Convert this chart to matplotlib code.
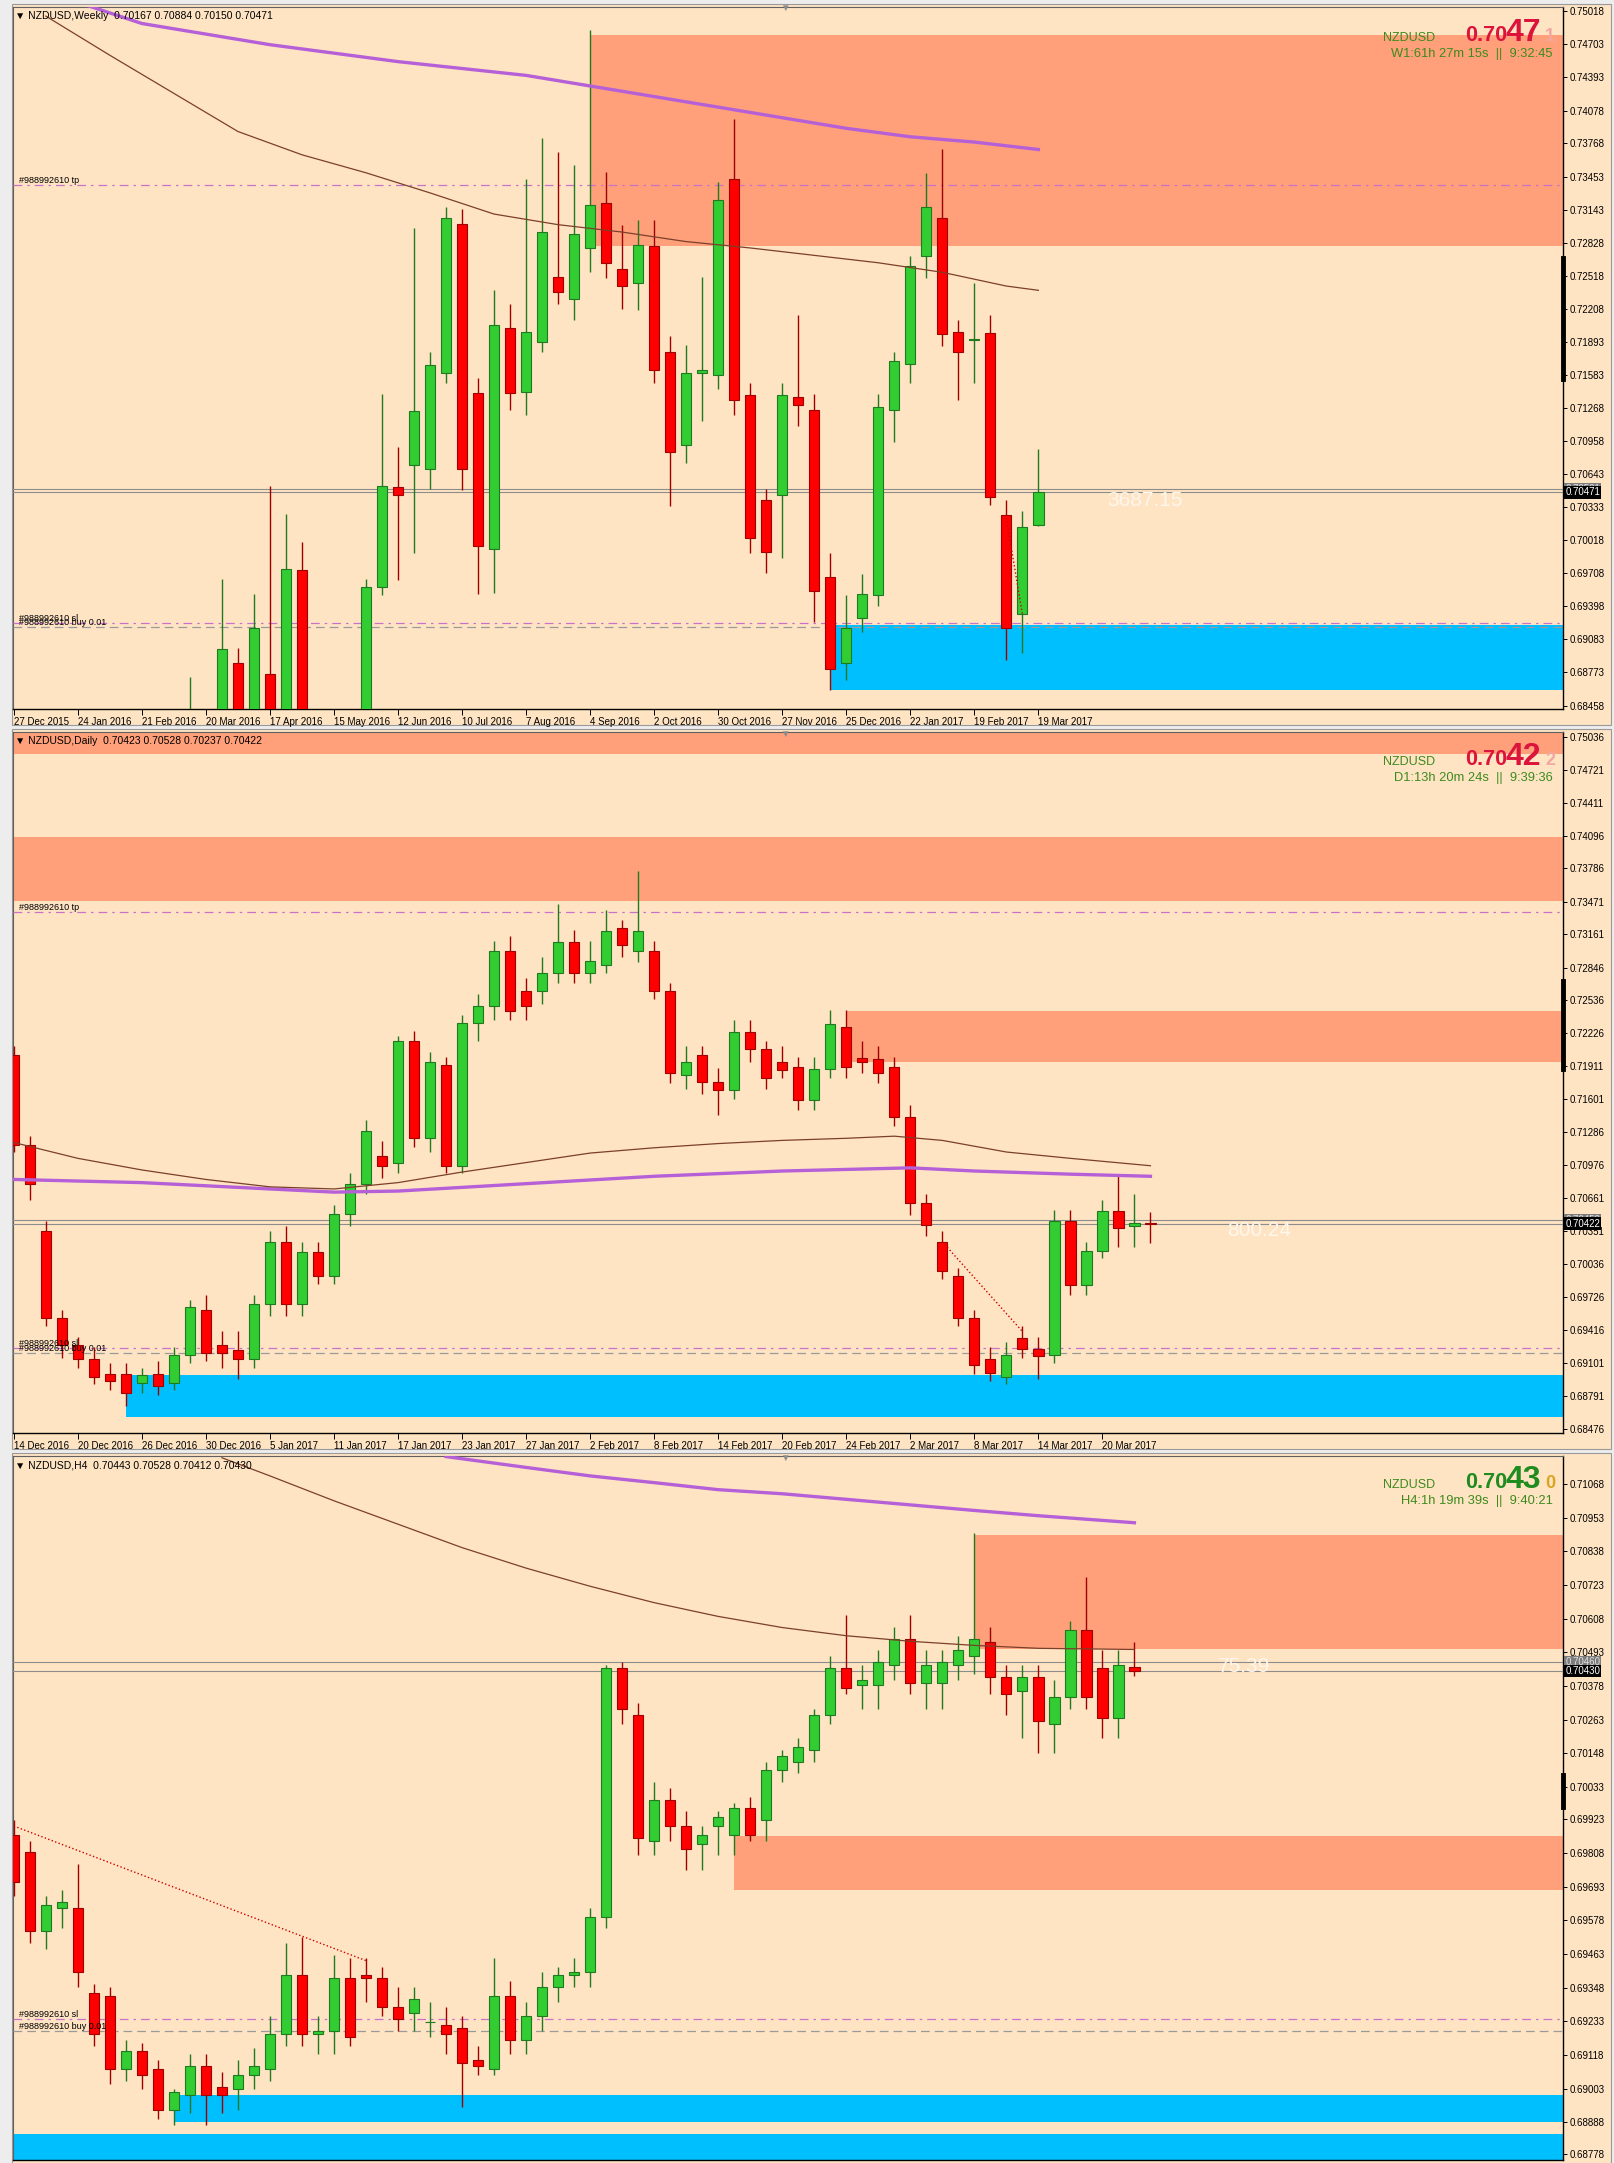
import matplotlib
matplotlib.use("Agg")
import matplotlib.pyplot as plt
import matplotlib.transforms as mtransforms
from matplotlib.lines import Line2D
from matplotlib.patches import Rectangle
import numpy as np

plt.rcParams['font.family'] = ['Liberation Sans', 'DejaVu Sans']

# ---------------- weekly (W1) ----------------
w_open = [.6835, .6790, .6570, .6470, .6500, .6480, .6620, .6680, .6620, .6640, .6740, .6700, .6820,
          .6790, .6886, .6810, .6876, .6810, .6974, .6810, .6760, .6780, .6810, .6958, .7052, .7073,
          .7069, .7160, .7301, .7141, .6994, .7202, .7142, .7189, .7251, .7230, .7278, .7320, .7258,
          .7245, .7280, .7180, .7092, .7160, .7158, .7343, .7139, .7040, .7045, .7137, .7125, .6967,
          .6886, .6928, .6950, .7125, .7168, .7270, .7306, .7199, .7191, .7198, .7026, .6932, .70167]
w_high = [.6840, .6800, .6600, .6560, .6560, .6650, .6720, .6700, .6680, .6760, .6790, .6873, .6840,
          .6965, .6900, .6951, .7053, .7027, .7000, .6840, .6830, .6840, .6965, .7140, .7090, .7297,
          .7180, .7317, .7315, .7155, .7238, .7225, .7343, .7382, .7369, .7356, .7484, .7350, .7300,
          .7304, .7304, .7195, .7186, .7251, .7340, .7400, .7150, .7050, .7150, .7215, .7140, .6990,
          .6950, .6970, .7140, .7180, .7270, .7349, .7371, .7210, .7245, .7215, .7040, .7030, .70884]
w_low = [.6770, .6560, .6400, .6440, .6450, .6470, .6600, .6580, .6560, .6620, .6640, .6690, .6760,
         .6770, .6790, .6790, .6780, .6800, .6800, .6720, .6700, .6750, .6800, .6950, .6964, .6990,
         .7050, .7150, .7049, .6951, .6952, .7125, .7120, .7180, .7225, .7210, .7255, .7250, .7220,
         .7219, .7150, .7034, .7075, .7115, .7145, .7120, .6990, .6971, .6985, .7110, .6925, .6860,
         .6870, .6915, .6940, .7095, .7150, .7250, .7185, .7134, .7150, .7035, .6889, .6895, .70150]
w_close = [.6790, .6570, .6470, .6500, .6480, .6620, .6680, .6620, .6640, .6740, .6700, .6820, .6790,
           .6899, .6810, .6919, .6810, .6975, .6810, .6760, .6780, .6810, .6958, .7053, .7045, .7124,
           .7167, .7306, .7069, .6996, .7205, .7141, .7199, .7293, .7236, .7291, .7319, .7264, .7242,
           .7281, .7163, .7085, .7160, .7163, .7323, .7134, .7004, .6991, .7139, .7130, .6954, .6880,
           .6919, .6951, .7128, .7171, .7261, .7317, .7197, .7180, .7192, .7043, .6919, .7014, .70471]
w_dates = ["27 Dec 2015", "24 Jan 2016", "21 Feb 2016", "20 Mar 2016", "17 Apr 2016", "15 May 2016",
           "12 Jun 2016", "10 Jul 2016", "7 Aug 2016", "4 Sep 2016", "2 Oct 2016", "30 Oct 2016",
           "27 Nov 2016", "25 Dec 2016", "22 Jan 2017", "19 Feb 2017", "19 Mar 2017"]
w_ticks = [0.75018, 0.74703, 0.74393, 0.74078, 0.73768, 0.73453, 0.73143, 0.72828, 0.72518, 0.72208,
           0.71893, 0.71583, 0.71268, 0.70958, 0.70643, 0.70333, 0.70018, 0.69708, 0.69398, 0.69083,
           0.68773, 0.68458]
w_ma_slow_bar = [4, 8, 16, 24, 32, 40, 48, 52, 56, 60, 64]
w_ma_slow = [.7510, .7490, .7470, .7454, .7441, .7421, .7401, .7391, .7383, .7378, .7371]
w_ma_fast_bar = [2, 6, 10, 14, 18, 22, 26, 30, 34, 38, 42, 46, 50, 54, 58, 62, 64]
w_ma_fast = [.7497, .7460, .7424, .7388, .7366, .7349, .7330, .7310, .7300, .7293, .7284, .7278,
             .7271, .7264, .7255, .7242, .7238]

# ---------------- daily (D1) ----------------
d_open = [.7202, .7117, .7035, .6953, .6927, .6914, .6900, .6900, .6891, .6900, .6891, .6918, .6960,
          .6927, .6922, .6914, .6966, .7025, .6966, .7015, .6993, .7051, .7080, .7106, .7100, .7215,
          .7123, .7192, .7097, .7232, .7248, .7300, .7263, .7263, .7280, .7309, .7280, .7287, .7322,
          .7300, .7300, .7263, .7183, .7202, .7176, .7169, .7224, .7208, .7195, .7191, .7159, .7189,
          .7228, .7199, .7198, .7191, .7143, .7062, .7025, .6993, .6953, .6914, .6897, .6934, .6923,
          .6918, .7045, .6984, .7016, .7054, .7040, .70423]
d_high = [.7210, .7125, .7045, .6960, .6935, .6925, .6910, .6910, .6905, .6912, .6925, .6970, .6975,
          .6940, .6940, .6975, .7035, .7040, .7025, .7025, .7060, .7090, .7140, .7120, .7220, .7225,
          .7205, .7200, .7240, .7260, .7310, .7315, .7275, .7295, .7345, .7320, .7310, .7339, .7330,
          .7376, .7310, .7270, .7210, .7210, .7190, .7235, .7235, .7215, .7210, .7200, .7200, .7245,
          .7245, .7215, .7210, .7200, .7155, .7070, .7035, .7000, .6960, .6925, .6930, .6945, .6935,
          .7055, .7055, .7025, .7065, .7088, .7070, .70528]
d_low = [.7110, .7065, .6945, .6915, .6905, .6890, .6885, .6869, .6882, .6880, .6885, .6910, .6912,
         .6905, .6895, .6905, .6955, .6955, .6955, .6985, .6985, .7040, .7070, .7085, .7090, .7115,
         .7110, .7090, .7090, .7215, .7235, .7235, .7235, .7250, .7270, .7270, .7270, .7280, .7295,
         .7290, .7255, .7175, .7170, .7165, .7145, .7160, .7195, .7170, .7180, .7150, .7150, .7180,
         .7180, .7185, .7175, .7135, .7050, .7030, .6990, .6945, .6900, .6893, .6890, .6915, .6895,
         .6910, .6975, .6975, .7010, .7020, .7020, .70237]
d_close = [.7117, .7080, .6953, .6927, .6914, .6897, .6893, .6882, .6899, .6888, .6918, .6963, .6920,
           .6920, .6914, .6966, .7025, .6966, .7015, .6993, .7051, .7080, .7130, .7097, .7215, .7123,
           .7195, .7097, .7232, .7248, .7300, .7244, .7248, .7280, .7309, .7280, .7291, .7319, .7306,
           .7319, .7263, .7185, .7195, .7176, .7169, .7224, .7208, .7180, .7188, .7159, .7189, .7231,
           .7191, .7195, .7185, .7143, .7062, .7041, .6997, .6953, .6908, .6901, .6918, .6923, .6917,
           .7045, .6984, .7016, .7054, .7038, .7043, .70422]
d_dates = ["14 Dec 2016", "20 Dec 2016", "26 Dec 2016", "30 Dec 2016", "5 Jan 2017", "11 Jan 2017",
           "17 Jan 2017", "23 Jan 2017", "27 Jan 2017", "2 Feb 2017", "8 Feb 2017", "14 Feb 2017",
           "20 Feb 2017", "24 Feb 2017", "2 Mar 2017", "8 Mar 2017", "14 Mar 2017", "20 Mar 2017"]
d_ticks = [0.75036, 0.74721, 0.74411, 0.74096, 0.73786, 0.73471, 0.73161, 0.72846, 0.72536, 0.72226,
           0.71911, 0.71601, 0.71286, 0.70976, 0.70661, 0.70351, 0.70036, 0.69726, 0.69416, 0.69101,
           0.68791, 0.68476]
d_ma_slow_bar = [0, 8, 16, 20, 24, 32, 40, 48, 56, 60, 66, 71]
d_ma_slow = [.7084, .7081, .7075, .7072, .7073, .7080, .7087, .7092, .7095, .7092, .7089, .7087]
d_ma_fast_bar = [0, 4, 8, 12, 16, 20, 24, 28, 32, 36, 40, 44, 48, 52, 55, 58, 62, 66, 71]
d_ma_fast = [.7119, .7104, .7093, .7084, .7077, .7075, .7081, .7091, .7100, .7109, .7114, .7118,
             .7121, .7123, .7125, .7121, .7110, .7104, .7097]

# ---------------- H4 ----------------
h_open = [.6987, .6981, .6954, .6962, .6962, .6933, .6932, .6907, .6913, .6907, .6893, .6898, .6908,
          .6901, .6900, .6905, .6907, .6919, .6939, .6919, .6920, .6938, .6939, .6938, .6928, .6926,
          .6923, .6922, .6921, .6910, .6907, .6932, .6917, .6925, .6935, .6939, .6940, .6959, .7044,
          .7028, .6985, .6999, .6990, .6984, .6990, .6987, .6996, .6992, .7009, .7012, .7016, .7028,
          .7044, .7038, .7038, .7045, .7054, .7039, .7039, .7045, .7048, .7053, .7041, .7036, .7041,
          .7025, .7034, .7057, .7044, .7027, .70443]
h_high = [.6992, .6985, .6966, .6968, .6977, .6936, .6935, .6917, .6916, .6910, .6900, .6912, .6912,
          .6906, .6910, .6914, .6925, .6950, .6952, .6925, .6946, .6945, .6945, .6942, .6935, .6935,
          .6930, .6928, .6925, .6915, .6945, .6937, .6930, .6940, .6942, .6945, .6962, .7045, .7046,
          .7032, .7005, .7003, .6995, .6990, .6995, .6998, .7000, .7012, .7016, .7020, .7030, .7048,
          .7062, .7045, .7050, .7058, .7062, .7050, .7050, .7055, .7090, .7058, .7045, .7045, .7045,
          .7040, .7060, .7075, .7050, .7050, .70528]
h_low = [.6966, .6950, .6948, .6955, .6935, .6915, .6902, .6903, .6900, .6890, .6888, .6892, .6888,
         .6892, .6893, .6900, .6903, .6915, .6915, .6912, .6912, .6915, .6930, .6925, .6920, .6920,
         .6918, .6912, .6894, .6905, .6905, .6912, .6912, .6920, .6930, .6935, .6935, .6955, .7025,
         .6980, .6980, .6985, .6975, .6975, .6980, .6980, .6985, .6985, .7005, .7008, .7012, .7025,
         .7035, .7030, .7030, .7040, .7035, .7030, .7030, .7040, .7042, .7035, .7028, .7020, .7015,
         .7015, .7030, .7030, .7020, .7020, .70412]
h_close = [.6971, .6954, .6963, .6964, .6940, .6919, .6907, .6913, .6905, .6893, .6899, .6908, .6898,
           .6898, .6905, .6908, .6919, .6939, .6919, .6920, .6938, .6918, .6938, .6928, .6924, .6931,
           .6923, .6919, .6909, .6908, .6932, .6917, .6925, .6935, .6939, .6940, .6959, .7044, .7030,
           .6986, .6999, .6990, .6982, .6987, .6993, .6996, .6987, .7009, .7014, .7017, .7028, .7044,
           .7037, .7040, .7046, .7054, .7039, .7045, .7046, .7050, .7054, .7041, .7035, .7041, .7026,
           .7034, .7057, .7034, .7027, .7045, .70430]
h_ticks = [0.71068, 0.70953, 0.70838, 0.70723, 0.70608, 0.70493, 0.70378, 0.70263, 0.70148, 0.70033,
           0.69923, 0.69808, 0.69693, 0.69578, 0.69463, 0.69348, 0.69233, 0.69118, 0.69003, 0.68888,
           0.68778]
h_ma_slow_bar = [27, 32, 36, 40, 44, 48, 52, 56, 60, 64, 70]
h_ma_slow = [.71162, .71125, .71096, .71073, .71049, .71035, .71016, .70997, .70978, .70960, .70936]
h_ma_fast_bar = [13, 16, 20, 24, 28, 32, 36, 40, 44, 48, 52, 56, 60, 64, 70]
h_ma_fast = [.71158, .71096, .71011, .70931, .70851, .70781, .70719, .70663, .70616, .70578,
             .70550, .70531, .70517, .70507, .70503]

# trade levels
tp_price, sl_price, buy_price = 0.7337, 0.6924, 0.6920

W, H = 1615, 2163
BG = '#FFE4C4'
ZONE = '#FFA07A'
BLUE = '#00BFFF'
BULL, BULL_EDGE = '#32CD32', '#1F7A1F'
BEAR, BEAR_EDGE = '#FF0000', '#A00000'
TXT_GREEN = '#3C8A1C'

fig = plt.figure(figsize=(W / 100, H / 100), dpi=100)
fig.patch.set_facecolor('#EDEDED')


def ftext(x, y, s, **kw):
    return fig.text(x / W, 1 - y / H, s, **kw)


def panel(y0, y1, ybot, ytop):
    fig.patches.append(Rectangle((12 / W, 1 - (y1 + 16) / H), 1599 / W, (y1 + 16 - y0 + 3) / H,
                                 transform=fig.transFigure, fc=BG, ec='#9A9A9A', lw=0.8, zorder=-5))
    ax = fig.add_axes([13 / W, 1 - y1 / H, 1550 / W, (y1 - y0) / H])
    ax.set_zorder(2)
    ax.set_facecolor(BG)
    ax.set_xlim(-0.05, 96.77)
    ax.set_ylim(ybot, ytop)
    for s in ['left', 'top']:
        ax.spines[s].set_color('#606060')
        ax.spines[s].set_linewidth(0.8)
    for s in ['right', 'bottom']:
        ax.spines[s].set_color('black')
        ax.spines[s].set_linewidth(1.0)
    return ax


def candles(ax, o, h, l, c):
    o, h, l, c = map(np.asarray, (o, h, l, c))
    x = np.arange(len(o))
    up = c >= o
    fills = np.where(up, BULL, BEAR)
    edges = np.where(up, BULL_EDGE, BEAR_EDGE)
    ax.vlines(x, l, h, colors=edges, lw=1.0, zorder=4)
    ax.bar(x, c - o, bottom=o, width=0.64, color=fills, edgecolor=edges, lw=0.8, zorder=5)


def price_axis(ax, ticks, bid, ask):
    ax.yaxis.tick_right()
    ax.set_yticks(ticks)
    ax.set_yticklabels([f"{t:.5f}" for t in ticks])
    ax.tick_params(axis='y', direction='out', length=3, width=0.7, pad=2, labelsize=7,
                   colors='black')
    tr = mtransforms.blended_transform_factory(ax.transAxes, ax.transData)
    ax.axhline(ask, color='#8C8C8C', lw=0.8, zorder=3)
    ax.axhline(bid, color='#8C8C8C', lw=0.8, zorder=3)
    ax.text(1.0015, ask, f"{ask:.5f}", transform=tr, fontsize=7, color='#E0E0E0', va='center',
            ha='left', bbox=dict(boxstyle='square,pad=0.12', fc='#7C7C7C', ec='none'), zorder=9,
            clip_on=False)
    ax.text(1.0015, bid, f"{bid:.5f}", transform=tr, fontsize=7, color='white', va='center',
            ha='left', bbox=dict(boxstyle='square,pad=0.12', fc='black', ec='none'), zorder=10,
            clip_on=False)


def trade_lines(ax, show_tp=True):
    tr = mtransforms.blended_transform_factory(ax.transAxes, ax.transData)
    if show_tp:
        ax.axhline(tp_price, color='#C873C8', lw=0.9, ls=(0, (7, 4, 2, 4)), zorder=3)
        ax.text(0.004, tp_price, "#988992610 tp", transform=tr, fontsize=6.5, va='bottom', zorder=8)
    ax.axhline(sl_price, color='#C873C8', lw=0.9, ls=(0, (7, 4, 2, 4)), zorder=3)
    ax.axhline(buy_price, color='#9A9A9A', lw=0.9, ls=(0, (7, 4)), zorder=3)
    ax.text(0.004, sl_price, "#988992610 sl", transform=tr, fontsize=6.5, va='bottom', zorder=8)
    ax.text(0.004, buy_price, "#988992610 buy 0.01", transform=tr, fontsize=6.5, va='bottom', zorder=8)


def date_axis(ax, labels):
    pos = np.arange(len(labels)) * 4
    ax.set_xticks(pos)
    ax.set_xticklabels(labels)
    ax.tick_params(axis='x', direction='out', length=4, width=0.7, pad=2, labelsize=7)
    for t in ax.get_xticklabels():
        t.set_ha('left')


def info(y, price_big, last, col_main, col_last, tf_text):
    ftext(1383, y, "NZDUSD", fontsize=9, color=TXT_GREEN, va='baseline', zorder=10)
    ftext(1507, y, "0.70", fontsize=15.5, fontweight='bold', color=col_main, ha='right', va='baseline', zorder=10)
    ftext(1506, y, price_big, fontsize=23, fontweight='bold', color=col_main, ha='left', va='baseline', zorder=10)
    ftext(1545, y, last, fontsize=13, fontweight='bold', color=col_last, ha='left', va='baseline', zorder=10)
    ftext(1553, y + 16, tf_text, fontsize=9.3, color=TXT_GREEN, ha='right', va='baseline', zorder=10)


# ================= panel 1: weekly =================
ax1 = panel(7, 709, 0.68425, 0.75056)
ax1.fill_between([36, 97], 0.72801, 0.74796, color=ZONE, lw=0, zorder=1)
ax1.fill_between([51, 97], 0.68601, 0.69214, color=BLUE, lw=0, zorder=1)
trade_lines(ax1)
ax1.plot(w_ma_slow_bar, w_ma_slow, color='#B660D8', lw=2.4, zorder=6)
ax1.plot(w_ma_fast_bar, w_ma_fast, color='#7B3F2A', lw=0.9, zorder=6)
candles(ax1, w_open, w_high, w_low, w_close)
ax1.plot([62, 63], [0.7023, 0.6932], color='#CC0000', lw=1, ls=':', zorder=7)
price_axis(ax1, w_ticks, w_close[-1], w_close[-1] + 0.0003)
date_axis(ax1, w_dates)
ftext(1107, 501, "3687.15", fontsize=15, color='#FFF6EC', va='center', zorder=10)
ftext(15, 19, "\u25bc NZDUSD,Weekly  0.70167 0.70884 0.70150 0.70471", fontsize=7.5, va='baseline', zorder=10)
info(41, "47", "1", '#DC143C', '#F2A7A0', "W1:61h 27m 15s  ||  9:32:45")

# ================= panel 2: daily =================
ax2 = panel(732, 1433, 0.68438, 0.75079)
ax2.fill_between([-1, 97], 0.74866, 0.7510, color=ZONE, lw=0, zorder=1)
ax2.fill_between([-1, 97], 0.73481, 0.74081, color=ZONE, lw=0, zorder=1)
ax2.fill_between([52, 97], 0.71952, 0.72436, color=ZONE, lw=0, zorder=1)
ax2.fill_between([7, 97], 0.68594, 0.68986, color=BLUE, lw=0, zorder=1)
trade_lines(ax2)
ax2.plot(d_ma_slow_bar, d_ma_slow, color='#B660D8', lw=2.4, zorder=6)
ax2.plot(d_ma_fast_bar, d_ma_fast, color='#7B3F2A', lw=0.9, zorder=6)
candles(ax2, d_open, d_high, d_low, d_close)
ax2.plot([58, 63], [0.7025, 0.6940], color='#CC0000', lw=1, ls=':', zorder=7)
price_axis(ax2, d_ticks, d_close[-1], d_close[-1] + 0.0003)
date_axis(ax2, d_dates)
ftext(1227, 1230, "800.24", fontsize=15, color='#FFF6EC', va='center', zorder=10)
ftext(15, 744, "\u25bc NZDUSD,Daily  0.70423 0.70528 0.70237 0.70422", fontsize=7.5, va='baseline', zorder=10)
info(765, "42", "2", '#DC143C', '#F2A7A0', "D1:13h 20m 24s  ||  9:39:36")

# ================= panel 3: H4 =================
ax3 = panel(1456, 2160, 0.68759, 0.71164)
ax3.fill_between([60, 97], 0.70503, 0.70894, color=ZONE, lw=0, zorder=1)
ax3.fill_between([45, 97], 0.69683, 0.69866, color=ZONE, lw=0, zorder=1)
ax3.fill_between([10, 97], 0.68890, 0.68980, color=BLUE, lw=0, zorder=1)
ax3.fill_between([-1, 97], 0.6870, 0.68849, color=BLUE, lw=0, zorder=1)
trade_lines(ax3, show_tp=False)
ax3.plot(h_ma_slow_bar, h_ma_slow, color='#B660D8', lw=2.4, zorder=6)
ax3.plot(h_ma_fast_bar, h_ma_fast, color='#7B3F2A', lw=0.9, zorder=6)
candles(ax3, h_open, h_high, h_low, h_close)
ax3.plot([0, 22], [0.6990, 0.6944], color='#CC0000', lw=1, ls=':', zorder=7)
price_axis(ax3, h_ticks, h_close[-1], h_close[-1] + 0.0003)
ax3.set_xticks([])
ftext(1218, 1666, "75.39", fontsize=15, color='#FFF6EC', va='center', zorder=10)
ftext(15, 1468, "\u25bc NZDUSD,H4  0.70443 0.70528 0.70412 0.70430", fontsize=7.5, va='baseline', zorder=10)
info(1488, "43", "0", '#1E8C1E', '#DAA520', "H4:1h 19m 39s  ||  9:40:21")

# scroll markers on the price scale and shift triangles
for y0, y1 in [(258, 379), (981, 1069), (1775, 1807)]:
    fig.lines.append(Line2D([1563 / W, 1563 / W], [1 - y0 / H, 1 - y1 / H], color='black', lw=3.5,
                            transform=fig.transFigure, zorder=10))
for y in [8, 734, 1458]:
    ftext(785, y, "\u25bc", fontsize=7, color='#8C8C8C', ha='center', va='center', zorder=10)

fig.savefig("out.png", dpi=100, facecolor=fig.get_facecolor())
